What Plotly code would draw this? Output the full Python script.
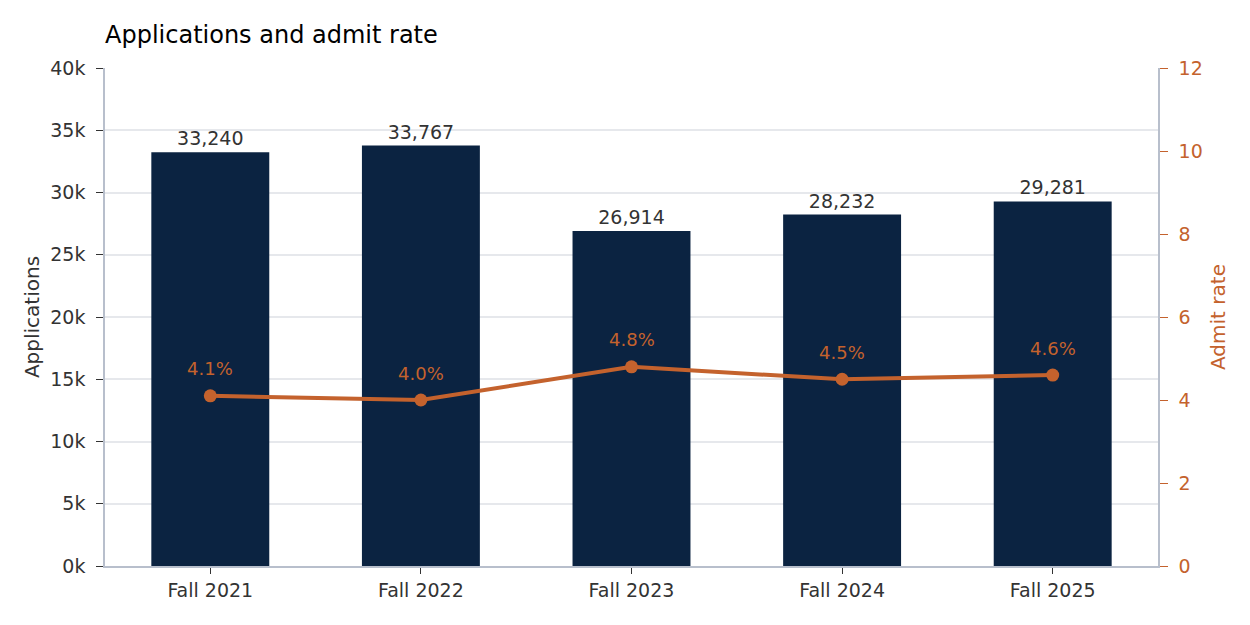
import plotly.graph_objects as go

TERMS = ["Fall 2021", "Fall 2022", "Fall 2023", "Fall 2024", "Fall 2025"]
APPLICATIONS = [33240, 33767, 26914, 28232, 29281]
ADMIT_RATE = [4.1, 4.0, 4.8, 4.5, 4.6]

APP_TICKS = [0, 5000, 10000, 15000, 20000, 25000, 30000, 35000, 40000]
APP_TICK_TEXT = ["0k", "5k", "10k", "15k", "20k", "25k", "30k", "35k", "40k"]
RATE_TICKS = [0, 2, 4, 6, 8, 10, 12]

NAVY = "#0b2341"
ORANGE = "#c4622d"
TEXT = "#333333"
AXIS_LINE = "#b8bfcc"
GRID = "#e6e8ec"
FONT = "DejaVu Sans"

fig = go.Figure()

fig.add_trace(
    go.Bar(
        x=TERMS,
        y=APPLICATIONS,
        name="Applications",
        marker=dict(color=NAVY, line=dict(width=0)),
        text=[f"{v:,}" for v in APPLICATIONS],
        textposition="outside",
        textfont=dict(color=TEXT, size=19, family=FONT),
        cliponaxis=False,
    )
)

fig.add_trace(
    go.Scatter(
        x=TERMS,
        y=ADMIT_RATE,
        name="Admit rate",
        yaxis="y2",
        mode="lines+markers",
        line=dict(color=ORANGE, width=4),
        marker=dict(color=ORANGE, size=13),
    )
)

# rate labels sit a little above each point
for term, rate in zip(TERMS, ADMIT_RATE):
    fig.add_annotation(
        x=term,
        y=rate,
        yref="y2",
        text=f"{rate:.1f}%",
        showarrow=False,
        yshift=27,
        font=dict(color=ORANGE, size=18, family=FONT),
    )

fig.update_layout(
    width=1250,
    height=625,
    margin=dict(l=97, r=100, t=60, b=67),
    paper_bgcolor="white",
    plot_bgcolor="white",
    showlegend=False,
    bargap=0.44,
    font=dict(family=FONT, color=TEXT, size=19),
    title=dict(
        text="Applications and admit rate",
        x=0,
        xref="paper",
        xanchor="left",
        y=0.958,
        yanchor="middle",
        font=dict(size=24, color="black", family=FONT),
    ),
    xaxis=dict(
        showline=True,
        linecolor=AXIS_LINE,
        linewidth=1.5,
        ticks="outside",
        ticklen=6,
        tickcolor=TEXT,
        tickfont=dict(size=19, color=TEXT),
        showgrid=False,
    ),
    yaxis=dict(
        title=dict(text="Applications", font=dict(size=20, color=TEXT), standoff=5),
        range=[0, 40000],
        tickvals=APP_TICKS,
        ticktext=APP_TICK_TEXT,
        showline=True,
        linecolor=AXIS_LINE,
        linewidth=1.5,
        ticks="outside",
        ticklen=7,
        tickcolor=TEXT,
        ticklabelstandoff=7,
        tickfont=dict(size=19, color=TEXT),
        showgrid=True,
        gridcolor=GRID,
        gridwidth=1.5,
        zeroline=False,
    ),
    yaxis2=dict(
        title=dict(text="Admit rate", font=dict(size=20, color=ORANGE), standoff=9),
        overlaying="y",
        side="right",
        range=[0, 12],
        tickvals=RATE_TICKS,
        showline=True,
        linecolor=AXIS_LINE,
        linewidth=1.5,
        ticks="outside",
        ticklen=8,
        tickcolor=ORANGE,
        ticklabelstandoff=7,
        tickfont=dict(size=19, color=ORANGE),
        showgrid=False,
        zeroline=False,
    ),
)

fig.write_html("out.html")
